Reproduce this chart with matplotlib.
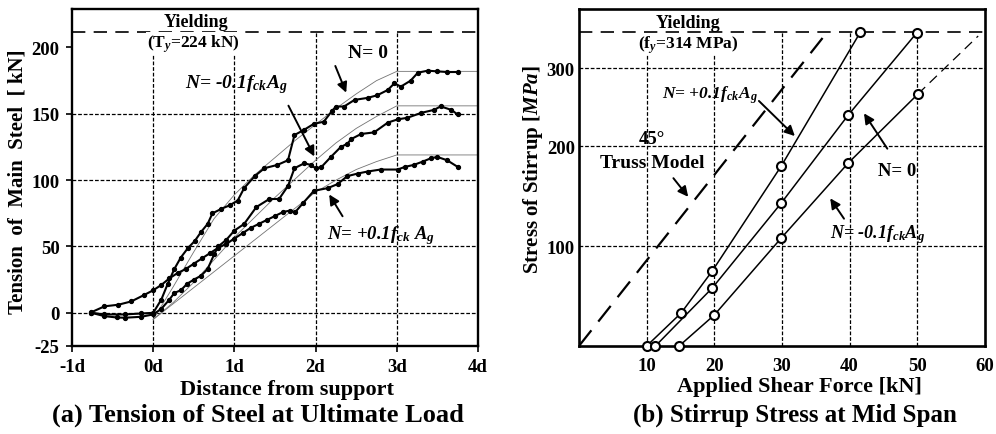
import numpy as np
import matplotlib.pyplot as plt

plt.rcParams['font.family'] = ['Liberation Serif', 'DejaVu Serif']
plt.rcParams['font.weight'] = 'bold'
plt.rcParams['axes.unicode_minus'] = False
plt.rcParams['mathtext.fontset'] = 'custom'
plt.rcParams['mathtext.rm'] = 'Liberation Serif:bold'
plt.rcParams['mathtext.it'] = 'Liberation Serif:bold:italic'
plt.rcParams['mathtext.bf'] = 'Liberation Serif:bold'

# ---- (a) tension of main steel, measured along the span ----
pos_x = [-0.76, -0.6, -0.43, -0.27, -0.11, 0, 0.1, 0.2, 0.3, 0.4, 0.5, 0.6, 0.7, 0.8, 0.9,
         1.0, 1.1, 1.2, 1.3, 1.4, 1.5, 1.6, 1.68, 1.75, 1.85, 1.98, 2.15, 2.27, 2.39, 2.52,
         2.64, 2.8, 3.01, 3.1, 3.21, 3.32, 3.42, 3.5, 3.62, 3.75]
pos_t = [0.5, 4.9, 6.1, 8.6, 13.5, 17, 21, 26, 30, 33, 37, 41, 45, 49, 52,
         56, 60, 64, 67, 70, 73, 76, 77, 76, 83, 92, 94, 97, 103, 105,
         106.5, 108, 108, 110, 111.5, 114, 116.5, 117.5, 115, 110]

zero_x = [-0.76, -0.6, -0.35, -0.15, 0, 0.1, 0.18, 0.26, 0.34, 0.43, 0.51, 0.59, 0.67, 0.73,
          0.84, 0.94, 1.04, 1.12, 1.25, 1.37, 1.53, 1.66, 1.74, 1.86, 1.98, 2.1, 2.2, 2.25,
          2.35, 2.48, 2.64, 2.76, 2.89, 2.97, 3.05, 3.17, 3.26, 3.38, 3.5, 3.62, 3.75]
zero_t = [0, -1.2, -1.2, -0.5, 0, 10, 22, 33, 41.7, 49, 54, 61, 67, 75,
          78.4, 81, 84.6, 94, 103, 109, 111.5, 115, 134, 138, 142.5, 144, 152, 155.5,
          155.5, 160.5, 162, 164, 168, 173, 170.5, 175, 181, 182.5, 182, 181.5, 181.5]

neg_x = [-0.76, -0.6, -0.45, -0.35, -0.15, 0, 0.1, 0.2, 0.26, 0.34, 0.42, 0.5, 0.59, 0.67,
         0.75, 0.8, 0.9, 1.0, 1.12, 1.27, 1.43, 1.55, 1.66, 1.74, 1.86, 1.94, 2.0, 2.07,
         2.19, 2.31, 2.39, 2.44, 2.56, 2.72, 2.89, 3.01, 3.13, 3.3, 3.46, 3.54, 3.67, 3.75]
neg_t = [0, -2.5, -3.5, -3.7, -3, -1.2, 3, 10, 15, 17, 22, 25, 28, 33,
         44, 50, 55, 62, 67, 79.7, 85.8, 85.8, 95.6, 109, 112.7, 111.5, 109, 109.8,
         117.6, 125, 127.4, 131, 134.8, 136, 143.4, 145.8, 147, 150.7, 153, 155.6, 153, 149.5]

# thin predicted curves
model_x = [0, 0.25, 0.5, 0.75, 1.0, 1.25, 1.5, 1.75, 2.0, 2.25, 2.5, 2.75, 3.0, 4.0]
model_zero = [-5, 20, 46, 71, 89, 104, 117, 130, 142, 154, 165, 175, 182, 182]
model_neg = [-5, 8, 23, 40, 57, 72, 87, 101, 115, 128, 139, 148, 156, 156]
model_pos = [-5, 7, 19, 31, 43, 55, 67, 79, 91, 100, 108, 114, 119, 119]

a_xticks = [-1, 0, 1, 2, 3, 4]
a_xlabels = ['-1d', '0d', '1d', '2d', '3d', '4d']
a_yticks = [-25, 0, 50, 100, 150, 200]
a_yield = 212

# ---- (b) stirrup stress at mid span ----
b_pos_v = [10, 15.1, 19.7, 29.9, 41.6]
b_pos_s = [0, 33, 75, 180, 314]
b_zero_v = [11.3, 19.7, 29.9, 39.8, 49.9]
b_zero_s = [0, 58, 143, 231, 313]
b_neg_v = [14.8, 20.0, 29.9, 39.8, 50.1]
b_neg_s = [0, 31, 108, 183, 252]
b_neg_ext_v = [50.1, 59.0]
b_neg_ext_s = [252, 310]
truss_v = [0, 36]
truss_s = [0, 308]
b_yield = 314
b_xticks = [10, 20, 30, 40, 50, 60]
b_yticks = [100, 200, 277.7]
b_ylabels = ['100', '200', '300']

grid_kw = dict(color='k', lw=0.9, ls=(0, (3, 1.5)), zorder=1)
arrow_kw = dict(arrowstyle='-|>', color='k', lw=1.4, mutation_scale=15)

fig = plt.figure(figsize=(9.96, 4.35), dpi=100)
ax1 = fig.add_axes([0.0723, 0.2023, 0.4076, 0.7747])
ax2 = fig.add_axes([0.5813, 0.2023, 0.4076, 0.7747])

# ---------------- left panel ----------------
ax1.set_xlim(-1, 4)
ax1.set_ylim(-25, 229)
for v in [0, 1, 2, 3]:
    ax1.plot([v, v], [-25, a_yield], **grid_kw)
for h in [0, 50, 100, 150]:
    ax1.plot([-1, 4], [h, h], **grid_kw)
ax1.plot([-1, 4], [a_yield, a_yield], color='k', lw=1.2, ls=(0, (8, 5)), zorder=3)

for m in [model_zero, model_neg, model_pos]:
    ax1.plot(model_x, m, color='0.45', lw=0.6, zorder=2)
for xs, ys in [(pos_x, pos_t), (zero_x, zero_t), (neg_x, neg_t)]:
    ax1.plot(xs, ys, color='k', lw=1.5, marker='o', ms=2.8, zorder=4)

ax1.text(0.53, 219.5, 'Yielding', ha='center', va='center', fontsize=13)
ax1.text(0.49, 203, r'(T$_y$=224 kN)', ha='center', va='center', fontsize=12.5,
         bbox=dict(fc='white', ec='none', pad=0.5), zorder=3)

ax1.text(2.4, 196, 'N= 0', ha='left', va='center', fontsize=14)
ax1.annotate('', xy=(2.39, 164), xytext=(2.23, 188), arrowprops=arrow_kw)
ax1.text(1.02, 173, r'N= -0.1f$_{ck}$A$_g$', ha='center', va='center', fontsize=14,
         style='italic')
ax1.annotate('', xy=(2.0, 116), xytext=(1.65, 158), arrowprops=arrow_kw)
ax1.text(2.8, 59, r'N= +0.1f$_{ck}$ A$_g$', ha='center', va='center', fontsize=13.5,
         style='italic')
ax1.annotate('', xy=(2.15, 91), xytext=(2.35, 71), arrowprops=arrow_kw)

ax1.set_xticks(a_xticks)
ax1.set_xticklabels(a_xlabels)
ax1.set_yticks(a_yticks)
ax1.tick_params(direction='out', length=4, width=1.2, labelsize=13.5, pad=5)
for s in ax1.spines.values():
    s.set_linewidth(1.7)

# ---------------- right panel ----------------
ax2.set_xlim(0, 60)
ax2.set_ylim(0, 337)
for v in [10, 20, 30, 40, 50]:
    ax2.plot([v, v], [0, b_yield], **grid_kw)
for h in b_yticks:
    ax2.plot([0, 60], [h, h], **grid_kw)
ax2.plot([0, 60], [b_yield, b_yield], color='k', lw=1.2, ls=(0, (8, 5)), zorder=3)
ax2.plot(truss_v, truss_s, color='k', lw=1.6, ls=(0, (9, 5)), zorder=3)
ax2.plot(b_neg_ext_v, b_neg_ext_s, color='k', lw=0.9, ls=(0, (8, 5)), zorder=3)

for vs, ss in [(b_pos_v, b_pos_s), (b_zero_v, b_zero_s), (b_neg_v, b_neg_s)]:
    ax2.plot(vs, ss, color='k', lw=1.1, marker='o', ms=6.5, mfc='white', mec='k',
             mew=1.5, zorder=5, clip_on=False)

ax2.text(16.1, 324, 'Yielding', ha='center', va='center', fontsize=13)
ax2.text(16.1, 302, r'(f$_y$=314 MPa)', ha='center', va='center', fontsize=12.5,
         bbox=dict(fc='white', ec='none', pad=0.5), zorder=3)
ax2.text(19.3, 252, r'N= +0.1f$_{ck}$A$_g$', ha='center', va='center', fontsize=12.5,
         style='italic')
ax2.annotate('', xy=(32.2, 208), xytext=(26.3, 247), arrowprops=arrow_kw)
ax2.text(10.8, 208, '45°', ha='center', va='center', fontsize=13.5)
ax2.text(10.8, 184, 'Truss Model', ha='center', va='center', fontsize=14)
ax2.annotate('', xy=(16.4, 147), xytext=(13.7, 170), arrowprops=arrow_kw)
ax2.text(47.0, 176, 'N= 0', ha='center', va='center', fontsize=13.5)
ax2.annotate('', xy=(41.9, 235), xytext=(45.8, 195), arrowprops=arrow_kw)
ax2.text(44.1, 112, r'N= -0.1f$_{ck}$A$_g$', ha='center', va='center', fontsize=13,
         style='italic')
ax2.annotate('', xy=(36.9, 150), xytext=(39.4, 125), arrowprops=arrow_kw)

ax2.set_xticks(b_xticks)
ax2.set_yticks(b_yticks)
ax2.set_yticklabels(b_ylabels)
ax2.tick_params(length=0, labelsize=13.5, pad=8)
ax2.tick_params(axis='y', pad=3)
for s in ax2.spines.values():
    s.set_linewidth(1.9)

# labels and captions
fig.text(0.018, 0.583, 'Tension  of  Main  Steel  [ kN]', rotation=90, ha='center',
         va='center', fontsize=15)
fig.text(0.288, 0.103, 'Distance from support', ha='center', va='center', fontsize=16)
fig.text(0.259, 0.046, '(a) Tension of Steel at Ultimate Load', ha='center',
         va='center', fontsize=19)
fig.text(0.535, 0.609, r'Stress of Stirrup [$MPa$]', rotation=90, ha='center',
         va='center', fontsize=15)
fig.text(0.803, 0.110, 'Applied Shear Force [kN]', ha='center', va='center', fontsize=16)
fig.text(0.798, 0.046, '(b) Stirrup Stress at Mid Span', ha='center', va='center',
         fontsize=18)

fig.savefig('out.png', dpi=100)
